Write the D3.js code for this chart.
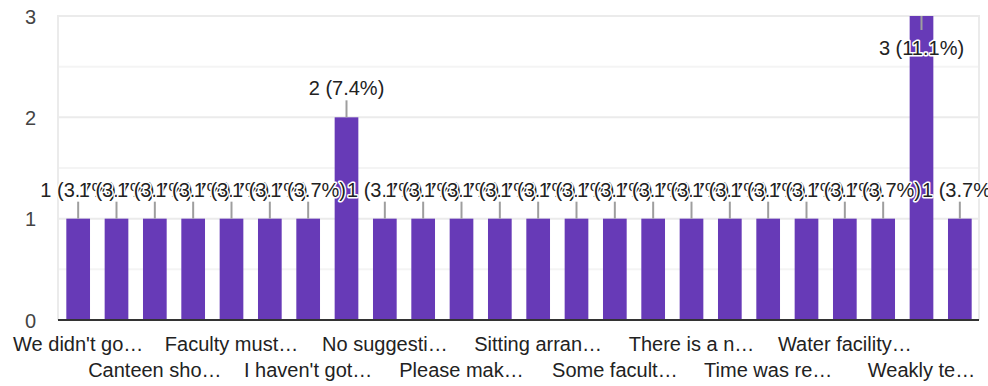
<!DOCTYPE html>
<html>
<head>
<meta charset="utf-8">
<script src="https://cdn.jsdelivr.net/npm/d3@7"></script>
<style>
  html, body { margin: 0; padding: 0; background: #fff; }
  svg { display: block; }
  text { font-family: "Liberation Sans", Arial, sans-serif; }
</style>
</head>
<body>
<svg id="chart" width="988" height="386"></svg>
<script>
// Category labels as they are displayed (truncated); odd ones are hidden by the axis
const categories = [
  "We didn't go…", "Bus facility…", "Canteen sho…", "Classrooms sh…",
  "Faculty must…", "Good", "I haven't got…", "Nil",
  "No suggesti…", "Nothing", "Please mak…", "Projector…",
  "Sitting arran…", "Smart class…", "Some facult…", "Teaching…",
  "There is a n…", "Time table…", "Time was re…", "Very good",
  "Water facility…", "We need…", "Weakly te…", "Wifi…"
];
const values = [1, 1, 1, 1, 1, 1, 1, 2, 1, 1, 1, 1, 1, 1, 1, 1, 1, 1, 1, 1, 1, 1, 3, 1];
const yTicks = [0, 1, 2, 3];
const yMinorTicks = [0.5, 1.5, 2.5];

const total = d3.sum(values);
const svg = d3.select("#chart");
const pLeft = 59, pRight = 979, pTop = 16, pBottom = 320;

const x = d3.scaleBand().domain(categories).range([pLeft, pRight])
  .paddingInner(0.382).paddingOuter(0.191);
const y = d3.scaleLinear().domain([0, 3]).range([pBottom, pTop]);

// minor gridlines
svg.append("g").selectAll("line").data(yMinorTicks).join("line")
  .attr("x1", pLeft - 1).attr("x2", pRight)
  .attr("y1", d => y(d)).attr("y2", d => y(d))
  .attr("stroke", "#f4f4f4").attr("stroke-width", 2);
// major gridlines
svg.append("g").selectAll("line").data(yTicks.filter(d => d > 0)).join("line")
  .attr("x1", pLeft - 1).attr("x2", pRight)
  .attr("y1", d => y(d)).attr("y2", d => y(d))
  .attr("stroke", "#ebebeb").attr("stroke-width", 2);
// side borders
svg.append("g").selectAll("line").data([pLeft - 1, pRight]).join("line")
  .attr("x1", d => d).attr("x2", d => d)
  .attr("y1", pTop - 1).attr("y2", pBottom)
  .attr("stroke", "#ebebeb").attr("stroke-width", 2);

// y axis labels
const yAxis = d3.axisLeft(y).tickValues(yTicks).tickFormat(d3.format("d")).tickSize(0).tickPadding(0);
const ya = svg.append("g").attr("transform", "translate(36,0)").call(yAxis);
ya.select(".domain").remove();
ya.selectAll("text").attr("font-size", 20).attr("fill", "#444")
  .attr("font-family", "'Liberation Sans', Arial, sans-serif")
  .attr("dy", null)
  .attr("y", 7);

// bars
svg.append("g").selectAll("rect").data(values).join("rect")
  .attr("x", (d, i) => x(categories[i]))
  .attr("width", x.bandwidth())
  .attr("y", d => y(d))
  .attr("height", d => y(0) - y(d))
  .attr("fill", "#673ab7");

// baseline
svg.append("line").attr("x1", pLeft - 1).attr("x2", pRight)
  .attr("y1", y(0)).attr("y2", y(0))
  .attr("stroke", "#333").attr("stroke-width", 2);

// x axis labels (every other, two rows)
const xAxis = d3.axisBottom(x).tickSize(0).tickPadding(0)
  .tickFormat((d, i) => i % 2 === 0 ? d : "");
const xa = svg.append("g").call(xAxis);
xa.select(".domain").remove();
xa.selectAll("text")
  .attr("font-size", 20).attr("fill", "#222")
  .attr("font-family", "'Liberation Sans', Arial, sans-serif")
  .attr("dy", null)
  .attr("y", (d, i) => (i % 4 === 0 ? 351 : 377));

// annotations: leader line + value label with white halo, drawn in order
const ann = svg.append("g");
values.forEach((v, i) => {
  const cx = x(categories[i]) + x.bandwidth() / 2;
  const yt = y(v);
  const inside = yt - 40 < pTop;
  const label = `${v} (${(v / total * 100).toFixed(1)}%)`;
  ann.append("line")
    .attr("x1", cx).attr("x2", cx)
    .attr("y1", yt).attr("y2", inside ? yt + 14 : yt - 17)
    .attr("stroke", "#9e9e9e").attr("stroke-width", 2);
  ann.append("text")
    .attr("x", cx).attr("y", inside ? yt + 39 : yt - 22)
    .attr("text-anchor", "middle")
    .attr("font-size", 20)
    .attr("fill", "#222")
    .attr("stroke", "#fff").attr("stroke-width", 3)
    .attr("stroke-linejoin", "round")
    .attr("paint-order", "stroke")
    .text(label);
});
</script>
</body>
</html>
